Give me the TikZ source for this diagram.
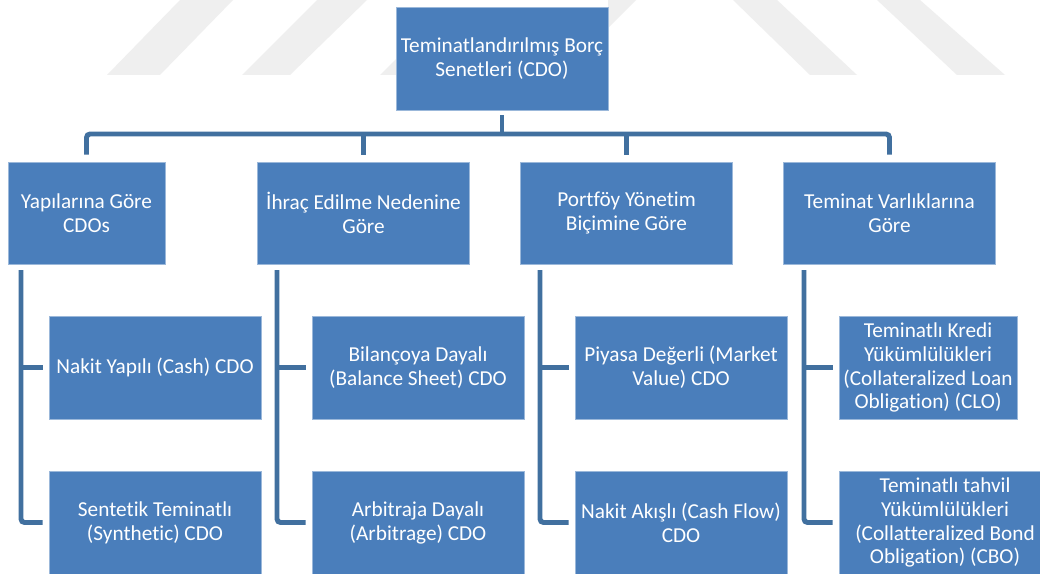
\documentclass[tikz,border=0pt]{standalone}
\usepackage{fontspec}
\setmainfont{Carlito}[Ligatures=NoCommon]
\usetikzlibrary{positioning, calc}
\definecolor{boxBlue}{HTML}{4A7EBB}
\definecolor{lineBlue}{HTML}{41709F}
\definecolor{markGray}{HTML}{EFEFEF}

\begin{document}
\begin{tikzpicture}[x=0.02cm, y=-0.02cm,
    box/.style={rectangle, fill=boxBlue, draw=boxBlue!55!white, line width=0.5pt,
                minimum width=#1, minimum height=2.06cm, inner sep=1pt,
                align=center, text=white, font=\fontsize{12.1}{13.6}\selectfont},
    box/.default=4.24cm,
    conn/.style={draw=lineBlue, line width=2.8pt, rounded corners=2pt},
  ]
    \useasboundingbox (0,0) rectangle (1040,574);
    \clip (0,0) rectangle (1040,574);
    \fill[white] (0,0) rectangle (1040,574);

    \fill[markGray] (107,75) -- (160,75) -- (233,0) -- (180,0) -- cycle;
    \fill[markGray] (242,75) -- (290,75) -- (367,0) -- (317,0) -- cycle;
    \fill[markGray] (380,75) -- (400,75) -- (400,55) -- cycle;
    \fill[markGray] (608,28) -- (608,0) -- (636,0) -- cycle;
    \fill[markGray] (733,0) -- (777,0) -- (857,75) -- (810,75) -- cycle;
    \fill[markGray] (877,0) -- (920,0) -- (1005,75) -- (957,75) -- cycle;

    \node[box] (root) at (502,58.5) {Teminatlandırılmış Borç\\Senetleri (CDO)};

    \node[box=3.14cm, minimum height=2.04cm] (yap) at (86.5,213) {Yapılarına Göre\\CDOs};
    \node[box, minimum height=2.04cm] (ihr) at (363.5,213) {İhraç Edilme Nedenine\\Göre};
    \node[box, minimum height=2.04cm] (port) at (626.5,213) {Portföy Yönetim\\Biçimine Göre};
    \node[box, minimum height=2.04cm] (tem) at (889.5,213) {Teminat Varlıklarına\\Göre};

    \node[box] (nakit) at (155,367.5) {Nakit Yapılı (Cash) CDO};
    \node[box] (sent) at (155,522.5) {Sentetik Teminatlı\\(Synthetic) CDO};
    \node[box] (bil) at (418,367.5) {Bilançoya Dayalı\\(Balance Sheet) CDO};
    \node[box] (arb) at (418,522.5) {Arbitraja Dayalı\\(Arbitrage) CDO};
    \node[box] (piy) at (681,367.5) {Piyasa Değerli (Market\\Value) CDO};
    \node[box] (akis) at (681,522.5) {Nakit Akışlı (Cash Flow)\\CDO};
    \node[box=3.56cm] (clo) at (928,367.5) {Teminatlı Kredi\\Yükümlülükleri\\(Collateralized Loan\\Obligation) (CLO)};
    \node[box] (cbo) at (945,522.5) {Teminatlı tahvil\\Yükümlülükleri\\(Collatteralized Bond\\Obligation) (CBO)};

    \coordinate (bus) at (502,134);
    \draw[conn] ([yshift=-2.8pt]root.south) -- (bus);
    \draw[conn] ([yshift=4pt]yap.north) -- (yap.north |- bus) -- (tem.north |- bus)
      -- ([yshift=4pt]tem.north);
    \draw[conn] (ihr.north |- bus) -- ([yshift=4pt]ihr.north);
    \draw[conn] (port.north |- bus) -- ([yshift=4pt]port.north);

    \foreach \grp/\kida/\kidb/\vx in {yap/nakit/sent/21, ihr/bil/arb/277,
        port/piy/akis/540, tem/clo/cbo/804} {
      \coordinate (v\grp) at (\vx,270);
      \draw[conn] (v\grp) |- ([xshift=-3.4pt]\kidb.west);
      \draw[conn] (v\grp |- \kida.west) -- ([xshift=-3.4pt]\kida.west);
    }
\end{tikzpicture}
\end{document}
